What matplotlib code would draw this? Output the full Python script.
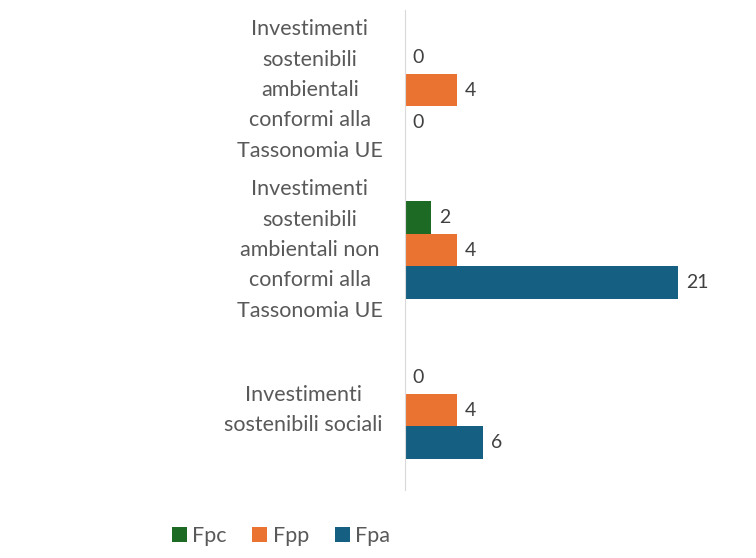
import matplotlib.pyplot as plt
import numpy as np

categories = [
    "Investimenti\nsostenibili\nambientali\nconformi alla\nTassonomia UE",
    "Investimenti\nsostenibili\nambientali non\nconformi alla\nTassonomia UE",
    "Investimenti\nsostenibili sociali",
]
series = ["Fpc", "Fpp", "Fpa"]
fpc = [0, 2, 0]
fpp = [4, 4, 4]
fpa = [0, 21, 6]
colors = ["#1d6a25", "#eb7332", "#155f83"]

plt.rcParams["font.family"] = ["Lato", "DejaVu Sans"]
text_color = "#595959"

fig = plt.figure(figsize=(7.56, 5.58), dpi=100)
ax = fig.add_axes([405 / 756, 68 / 558, 325 / 756, 480 / 558])

y = np.arange(len(categories))
h = 0.205
for i, (name, vals, c) in enumerate(zip(series, [fpc, fpp, fpa], colors)):
    pos = y + (i - 1) * h
    bars = ax.barh(pos, vals, height=h, color=c, label=name)
    for b, v in zip(bars, vals):
        ax.text(v + 0.6, b.get_y() + h / 2, f"{v}", va="center", ha="left",
                fontsize=14, color="#404040")

ax.set_xlim(0, 25)
ax.set_ylim(2.5, -0.5)
ax.set_xticks([])
ax.set_yticks(y)
ax.set_yticklabels(categories, fontsize=15.5, color=text_color,
                   multialignment="center", linespacing=1.65, va="center")
ax.tick_params(axis="y", length=0, pad=16)
for s in ["top", "right", "bottom"]:
    ax.spines[s].set_visible(False)
ax.spines["left"].set_color("#d9d9d9")

fig.legend(loc="center", bbox_to_anchor=(281 / 756, 1 - 536 / 558), ncol=3,
           frameon=False, fontsize=15.5, handlelength=0.7, handleheight=0.7,
           handletextpad=0.25, columnspacing=1.2, labelcolor=text_color)

fig.savefig("out.png", dpi=100)
